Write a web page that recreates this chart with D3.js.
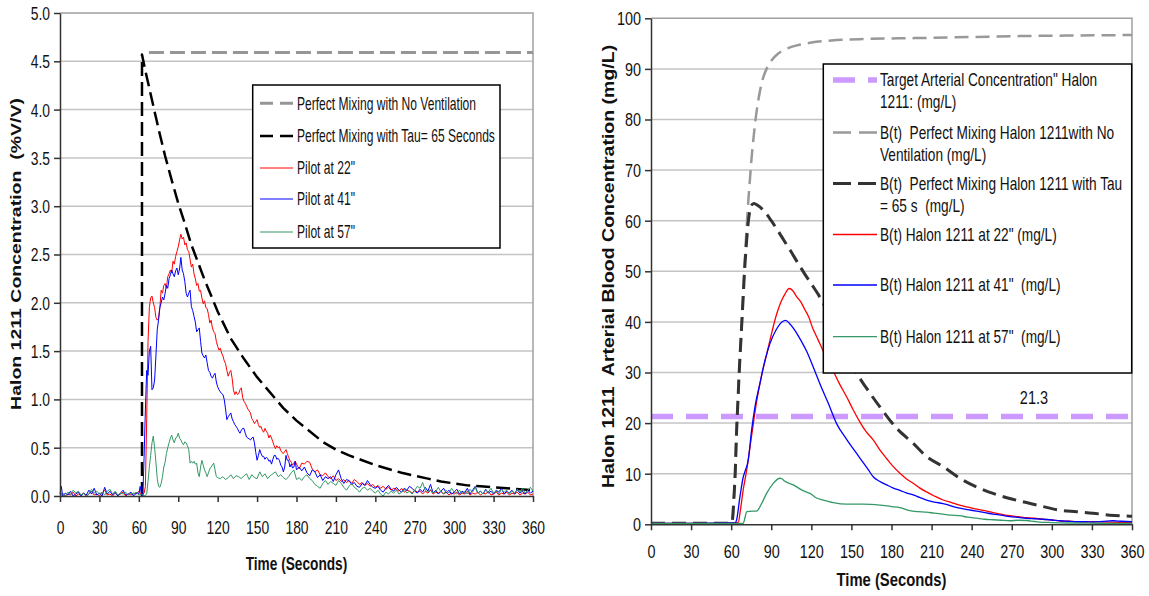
<!DOCTYPE html>
<html>
<head>
<meta charset="utf-8">
<script src="https://cdn.jsdelivr.net/npm/d3@7"></script>
<style>
  body { margin: 0; background: #fff; }
  svg { display: block; font-family: "Liberation Sans", Arial, sans-serif; }
</style>
</head>
<body>
<svg id="chart" width="1149" height="596"></svg>
<script>
// Tick labels shared by the two panels
var timeTicks = [0, 30, 60, 90, 120, 150, 180, 210, 240, 270, 300, 330, 360];
var leftTicks = [0, 0.5, 1, 1.5, 2, 2.5, 3, 3.5, 4, 4.5, 5];
var rightTicks = [0, 10, 20, 30, 40, 50, 60, 70, 80, 90, 100];

// Left panel, room concentration (%V/V) as [seconds, value]
var noVentL = [[67.7, 4.59], [360, 4.59]];
var tauL = [[62.4, 0], [62.4, 4.57], [65, 4.40], [70, 4.10], [75, 3.80], [80, 3.52], [85, 3.27], [90, 3.03],
  [95, 2.82], [100, 2.60], [105, 2.42], [110, 2.24], [120, 1.91], [130, 1.63], [140, 1.42], [150, 1.23],
  [160, 1.07], [170, 0.91], [180, 0.78], [190, 0.67], [200, 0.56], [210, 0.48], [220, 0.42], [230, 0.37],
  [240, 0.32], [250, 0.28], [260, 0.24], [270, 0.21], [280, 0.18], [290, 0.15], [300, 0.13], [310, 0.11],
  [320, 0.10], [330, 0.09], [340, 0.08], [350, 0.07], [360, 0.06]];
var pilot22 = [[0, 0.01], [2, 0.03], [4, 0.0], [6, 0.02], [8, 0.01], [10, 0.04], [12, 0.0], [14, 0.02], [16, 0.01],
  [18, 0.03], [20, 0.0], [22, 0.02], [24, 0.05], [26, 0.01], [28, 0.02], [30, 0.0], [32, 0.03], [34, 0.06],
  [36, 0.01], [38, 0.02], [40, 0.0], [42, 0.03], [44, 0.01], [46, 0.02], [48, 0.04], [50, 0.0], [52, 0.02],
  [54, 0.01], [56, 0.03], [58, 0.02], [60, 0.05], [62, 0.01], [64, 0.03], [65, 0.1], [66, 0.8], [67, 1.6],
  [68, 1.95], [69, 2.05], [70, 2.07], [71, 2.0], [72, 1.95], [73, 1.85], [74, 1.82], [75, 1.84], [76, 1.95],
  [77, 2.13], [78, 2.1], [79, 2.18], [80, 2.2], [81, 2.15], [82, 2.27], [83, 2.3], [84, 2.34], [85, 2.31],
  [86, 2.43], [87, 2.4], [88, 2.48], [89, 2.53], [90, 2.58], [91, 2.65], [92, 2.71], [93, 2.66], [94, 2.68],
  [95, 2.6], [96, 2.62], [97, 2.55], [98, 2.53], [99, 2.45], [100, 2.37], [101, 2.4], [102, 2.3], [103, 2.25],
  [104, 2.18], [105, 2.2], [106, 2.12], [107, 2.13], [108, 2.05], [109, 1.99], [110, 2.02], [111, 1.95],
  [112, 1.94], [113, 1.88], [114, 1.79], [115, 1.82], [116, 1.74], [117, 1.7], [118, 1.68], [119, 1.6],
  [120, 1.55], [121, 1.51], [122, 1.53], [123, 1.48], [124, 1.45], [125, 1.4], [126, 1.37], [127, 1.3],
  [128, 1.24], [129, 1.28], [130, 1.3], [131, 1.22], [132, 1.1], [133, 1.05], [134, 1.08], [135, 1.05],
  [136, 1.06], [137, 1.1], [138, 1.12], [139, 1.02], [140, 0.98], [141, 0.96], [142, 0.93], [143, 0.9],
  [144, 0.88], [145, 0.86], [146, 0.8], [147, 0.78], [148, 0.75], [149, 0.77], [150, 0.79], [151, 0.74],
  [152, 0.71], [153, 0.72], [154, 0.68], [155, 0.66], [156, 0.7], [157, 0.67], [158, 0.65], [159, 0.6],
  [160, 0.63], [161, 0.6], [162, 0.56], [163, 0.52], [164, 0.49], [165, 0.52], [166, 0.5], [167, 0.51],
  [168, 0.47], [169, 0.45], [170, 0.44], [171, 0.46], [172, 0.48], [173, 0.44], [174, 0.4], [175, 0.37],
  [176, 0.35], [177, 0.32], [178, 0.34], [179, 0.36], [180, 0.33], [182, 0.28], [184, 0.34], [186, 0.33],
  [188, 0.36], [190, 0.35], [192, 0.28], [194, 0.25], [196, 0.27], [198, 0.22], [200, 0.21], [202, 0.24],
  [204, 0.2], [206, 0.18], [208, 0.21], [210, 0.16], [212, 0.18], [214, 0.15], [216, 0.17], [218, 0.14],
  [220, 0.16], [222, 0.13], [224, 0.17], [226, 0.15], [228, 0.12], [230, 0.14], [232, 0.11], [234, 0.13],
  [236, 0.1], [238, 0.12], [240, 0.09], [242, 0.11], [244, 0.08], [246, 0.1], [248, 0.07], [250, 0.09],
  [252, 0.06], [254, 0.08], [256, 0.07], [258, 0.05], [260, 0.08], [262, 0.04], [264, 0.06], [266, 0.05],
  [268, 0.03], [270, 0.06], [272, 0.04], [274, 0.05], [276, 0.02], [278, 0.05], [280, 0.03], [282, 0.06],
  [284, 0.02], [286, 0.04], [288, 0.03], [290, 0.05], [292, 0.02], [294, 0.04], [296, 0.01], [298, 0.03],
  [300, 0.02], [302, 0.04], [304, 0.01], [306, 0.03], [308, 0.02], [310, 0.05], [312, 0.01], [314, 0.03],
  [316, 0.02], [318, 0.04], [320, 0.01], [322, 0.03], [324, 0.02], [326, 0.05], [328, 0.01], [330, 0.02],
  [332, 0.04], [334, 0.01], [336, 0.03], [338, 0.02], [340, 0.04], [342, 0.01], [344, 0.03], [346, 0.02],
  [348, 0.04], [350, 0.01], [352, 0.03], [354, 0.02], [356, 0.04], [358, 0.01], [360, 0.02]];
var pilot41 = [[0, 0.02], [1, 0.1], [2, 0.0], [4, 0.03], [6, 0.01], [8, 0.05], [10, 0.0], [12, 0.02], [14, 0.04],
  [16, 0.0], [18, 0.03], [20, 0.01], [22, 0.06], [24, 0.02], [26, 0.08], [28, 0.01], [30, 0.03], [32, 0.0],
  [34, 0.09], [36, 0.02], [38, 0.05], [40, 0.01], [42, 0.04], [44, 0.0], [46, 0.03], [48, 0.06], [50, 0.01],
  [52, 0.02], [54, 0.04], [56, 0.0], [58, 0.03], [60, 0.02], [61, 0.1], [62, 0.03], [63, 0.0], [64, 0.4],
  [65, 0.9], [66, 1.3], [67, 1.25], [68, 1.5], [69, 1.55], [70, 1.1], [71, 1.12], [72, 1.2], [73, 1.45],
  [74, 1.72], [75, 1.82], [76, 1.95], [77, 2.0], [78, 2.06], [79, 2.03], [80, 2.1], [81, 2.18], [82, 2.15],
  [83, 2.25], [84, 2.29], [85, 2.34], [86, 2.3], [87, 2.27], [88, 2.33], [89, 2.36], [90, 2.29], [91, 2.35],
  [92, 2.47], [93, 2.34], [94, 2.3], [95, 2.22], [96, 2.1], [97, 2.06], [98, 2.1], [99, 2.13], [100, 1.96],
  [101, 1.92], [102, 1.86], [103, 1.8], [104, 1.7], [105, 1.72], [106, 1.74], [107, 1.6], [108, 1.48],
  [109, 1.45], [110, 1.43], [111, 1.46], [112, 1.38], [113, 1.3], [114, 1.28], [115, 1.24], [116, 1.22],
  [117, 1.25], [118, 1.27], [119, 1.18], [120, 1.13], [121, 1.1], [122, 1.08], [123, 1.06], [124, 1.05],
  [125, 1.0], [126, 0.9], [127, 0.79], [128, 0.82], [129, 0.84], [130, 0.86], [131, 0.8], [132, 0.77],
  [133, 0.74], [134, 0.72], [135, 0.7], [136, 0.67], [137, 0.65], [138, 0.68], [139, 0.7], [140, 0.7],
  [141, 0.65], [142, 0.61], [143, 0.6], [144, 0.59], [145, 0.58], [146, 0.6], [147, 0.61], [148, 0.55],
  [149, 0.45], [150, 0.37], [151, 0.42], [152, 0.48], [153, 0.44], [154, 0.41], [155, 0.41], [156, 0.38],
  [157, 0.4], [158, 0.39], [159, 0.36], [160, 0.37], [161, 0.33], [162, 0.38], [163, 0.42], [164, 0.42],
  [165, 0.38], [166, 0.39], [167, 0.37], [168, 0.32], [169, 0.3], [170, 0.25], [171, 0.3], [172, 0.42],
  [173, 0.37], [174, 0.37], [175, 0.3], [176, 0.33], [177, 0.29], [178, 0.3], [179, 0.36], [180, 0.27],
  [182, 0.3], [184, 0.26], [186, 0.3], [188, 0.24], [190, 0.21], [192, 0.27], [194, 0.25], [196, 0.19],
  [198, 0.22], [200, 0.16], [202, 0.2], [204, 0.18], [206, 0.2], [208, 0.15], [210, 0.22], [212, 0.27],
  [214, 0.18], [216, 0.13], [218, 0.17], [220, 0.16], [222, 0.12], [224, 0.14], [226, 0.1], [228, 0.09],
  [230, 0.13], [232, 0.11], [234, 0.16], [236, 0.12], [238, 0.09], [240, 0.08], [242, 0.1], [244, 0.06],
  [246, 0.04], [248, 0.08], [250, 0.11], [252, 0.07], [254, 0.05], [256, 0.09], [258, 0.06], [260, 0.04],
  [262, 0.08], [264, 0.06], [266, 0.1], [268, 0.08], [270, 0.05], [272, 0.03], [274, 0.07], [276, 0.04],
  [278, 0.09], [280, 0.05], [282, 0.12], [284, 0.03], [286, 0.06], [288, 0.02], [290, 0.05], [292, 0.08],
  [294, 0.03], [296, 0.06], [298, 0.02], [300, 0.04], [302, 0.07], [304, 0.02], [306, 0.05], [308, 0.03],
  [310, 0.08], [312, 0.02], [314, 0.06], [316, 0.1], [318, 0.03], [320, 0.05], [322, 0.02], [324, 0.07],
  [326, 0.03], [328, 0.05], [330, 0.02], [332, 0.06], [334, 0.04], [336, 0.08], [338, 0.02], [340, 0.05],
  [342, 0.03], [344, 0.06], [346, 0.02], [348, 0.07], [350, 0.03], [352, 0.05], [354, 0.02], [356, 0.06],
  [358, 0.03], [360, 0.05]];
var pilot57 = [[0, 0.0], [2, 0.02], [4, 0.0], [6, 0.04], [8, 0.02], [10, 0.06], [12, 0.03], [14, 0.05], [16, 0.01],
  [18, 0.03], [20, 0.0], [22, 0.02], [24, 0.07], [26, 0.03], [28, 0.05], [30, 0.02], [32, 0.04], [34, 0.01],
  [36, 0.05], [38, 0.07], [40, 0.02], [42, 0.05], [44, 0.01], [46, 0.03], [48, 0.02], [50, 0.04], [52, 0.01],
  [54, 0.03], [56, 0.02], [58, 0.04], [60, 0.01], [62, 0.02], [64, 0.0], [66, 0.02], [67, 0.15], [68, 0.3],
  [69, 0.42], [70, 0.55], [71, 0.62], [72, 0.5], [73, 0.35], [74, 0.18], [75, 0.1], [76, 0.09], [77, 0.13],
  [78, 0.2], [79, 0.3], [80, 0.35], [81, 0.44], [82, 0.5], [83, 0.55], [84, 0.6], [85, 0.63], [86, 0.58],
  [87, 0.55], [88, 0.6], [89, 0.61], [90, 0.65], [91, 0.6], [92, 0.58], [93, 0.55], [94, 0.53], [95, 0.56],
  [96, 0.55], [97, 0.52], [98, 0.48], [99, 0.34], [100, 0.36], [101, 0.34], [102, 0.36], [103, 0.33],
  [104, 0.34], [105, 0.24], [106, 0.2], [107, 0.3], [108, 0.37], [109, 0.32], [110, 0.27], [111, 0.24],
  [112, 0.2], [113, 0.24], [114, 0.28], [115, 0.3], [116, 0.32], [117, 0.34], [118, 0.27], [119, 0.2],
  [120, 0.19], [122, 0.18], [124, 0.2], [126, 0.17], [128, 0.19], [130, 0.22], [132, 0.18], [134, 0.21],
  [136, 0.2], [138, 0.18], [140, 0.21], [142, 0.23], [144, 0.17], [146, 0.22], [148, 0.19], [150, 0.18],
  [152, 0.25], [154, 0.2], [156, 0.23], [158, 0.18], [160, 0.21], [162, 0.23], [164, 0.25], [166, 0.2],
  [168, 0.22], [170, 0.19], [172, 0.17], [174, 0.2], [176, 0.24], [178, 0.27], [180, 0.17], [182, 0.19],
  [184, 0.16], [186, 0.2], [188, 0.22], [190, 0.18], [192, 0.16], [194, 0.12], [196, 0.1], [198, 0.08],
  [200, 0.13], [202, 0.16], [204, 0.12], [206, 0.15], [208, 0.13], [210, 0.11], [212, 0.16], [214, 0.13],
  [216, 0.09], [218, 0.06], [220, 0.1], [222, 0.13], [224, 0.09], [226, 0.07], [228, 0.04], [230, 0.08],
  [232, 0.09], [234, 0.06], [236, 0.08], [238, 0.05], [240, 0.03], [242, 0.06], [244, 0.02], [246, 0.0],
  [248, 0.04], [250, 0.02], [252, 0.05], [254, 0.03], [256, 0.06], [258, 0.02], [260, 0.04], [262, 0.07],
  [264, 0.03], [266, 0.05], [268, 0.02], [270, 0.06], [272, 0.1], [274, 0.08], [276, 0.14], [278, 0.06],
  [280, 0.04], [282, 0.07], [284, 0.03], [286, 0.05], [288, 0.09], [290, 0.04], [292, 0.02], [294, 0.06],
  [296, 0.03], [298, 0.08], [300, 0.04], [302, 0.02], [304, 0.06], [306, 0.03], [308, 0.05], [310, 0.02],
  [312, 0.07], [314, 0.04], [316, 0.09], [318, 0.03], [320, 0.05], [322, 0.02], [324, 0.06], [326, 0.04],
  [328, 0.08], [330, 0.03], [332, 0.05], [334, 0.02], [336, 0.07], [338, 0.04], [340, 0.06], [342, 0.02],
  [344, 0.05], [346, 0.03], [348, 0.07], [350, 0.04], [352, 0.08], [354, 0.03], [356, 0.06], [358, 0.09],
  [360, 0.05]];

// Right panel, arterial blood concentration (mg/L) as [seconds, value]
var target = [[0, 21.3], [360, 21.3]];
var noVentR = [[0, 0.2], [60, 0.2], [61, 1], [62, 5], [63, 10], [64, 18], [65, 24], [66, 30], [67, 35],
  [68, 40], [69, 45.5], [70, 51], [71, 56], [72, 60.5], [73, 64.5], [74, 68], [75, 71.5], [76, 74.5],
  [77, 77], [78, 79.5], [79, 81.5], [80, 83.3], [82, 86.2], [84, 88.3], [87, 90.3], [90, 91.6], [95, 93],
  [100, 93.8], [110, 94.7], [120, 95.2], [135, 95.6], [160, 95.9], [200, 96.1], [240, 96.3], [280, 96.5],
  [320, 96.6], [360, 96.7]];
var tauR = [[0, 0.2], [60, 0.2], [61, 1], [62, 5], [63, 10], [64, 18], [65, 24], [66, 30], [67, 35], [68, 40],
  [69, 45], [70, 50], [71, 54], [72, 57.5], [73, 60.2], [74, 62], [75, 63], [77, 63.4], [80, 63],
  [85, 61.8], [90, 60], [95, 58], [100, 55.9], [105, 53.8], [110, 51.6], [115, 49.5], [120, 47.5],
  [125, 45.5], [130, 43.2], [135, 40.4], [140, 37.4], [145, 34.6], [150, 31.9], [155, 29.4],
  [161.3, 26.9], [171.3, 23.2], [183.8, 19.0], [196.2, 16.0], [206.2, 13.4], [218.6, 11.4], [231.1, 9.1],
  [243.6, 7.4], [256, 6.1], [268.5, 5.1], [281, 4.3], [293.4, 3.5], [305.9, 2.8], [318.4, 2.5], [330.8, 2.2],
  [343.3, 1.8], [360, 1.6]];
var blood22 = [[0, 0.2], [30, 0.2], [60, 0.3], [65.3, 0.4], [67, 3], [69, 6.8], [71.6, 10.7], [74.1, 15.3],
  [76.6, 19.9], [79, 24.2], [82.8, 29.5], [86.5, 33.5], [90.3, 37.8], [94, 41.5], [97, 43.8], [100, 45.4],
  [103.5, 46.6], [106, 46.2], [109, 45], [112, 44], [115, 42.5], [118, 41], [121, 38.8], [125, 36.5],
  [130, 33.6], [136.4, 30.3], [141, 27.8], [146.4, 25.2], [151, 22.8], [156.4, 20.2], [161, 18.3],
  [166.3, 16.7], [171, 14.8], [176.3, 13.0], [181, 11.5], [186.3, 10.1], [191, 9.0], [196.2, 8.1],
  [201, 7.2], [206.2, 6.4], [212, 5.6], [218.6, 4.8], [225, 4.3], [231, 3.8], [237, 3.4], [243.6, 3.0],
  [250, 2.7], [256, 2.3], [262, 2.0], [268.5, 1.7], [275, 1.5], [281, 1.3], [287, 1.2], [293, 1.0],
  [300, 0.85], [306, 0.7], [313, 0.6], [320, 0.5], [330, 0.5], [340, 0.45], [350, 0.4], [360, 0.4]];
var blood41 = [[0, 0.2], [30, 0.2], [60, 0.3], [63, 0.3], [64, 0.8], [66.6, 5.5], [69.1, 9.4], [70.3, 10.4],
  [72.8, 12.7], [75.3, 18.6], [77.8, 23.2], [81.5, 27.8], [85.3, 32.4], [89, 35.7], [94, 38.6], [98, 40],
  [100.8, 40.3], [104, 39.6], [109, 37.8], [112.5, 36.2], [116.5, 34.2], [121.4, 31.1], [126.4, 27.8],
  [132.7, 23.9], [138.9, 19.9], [146.4, 16.8], [153.9, 14.0], [158, 12.5], [162.6, 10.8], [166.3, 9.4],
  [171, 8.5], [176.3, 7.8], [181, 7.2], [186.3, 6.7], [191, 6.2], [196.2, 5.8], [201, 5.3], [206.2, 4.8],
  [212, 4.4], [218.6, 4.1], [225, 3.6], [231, 3.2], [237, 2.9], [243.6, 2.6], [250, 2.3], [256, 2.0],
  [262, 1.8], [268.5, 1.5], [275, 1.35], [281, 1.2], [287, 1.1], [293, 1.0], [300, 0.85], [306, 0.7],
  [312, 0.6], [318, 0.5], [325, 0.5], [331, 0.45], [338, 0.55], [346, 0.7], [352, 0.6], [360, 0.5]];
var blood57 = [[0, 0.2], [30, 0.2], [60, 0.2], [69, 0.2], [70.5, 1.5], [71.6, 2.5], [76, 2.6], [79, 2.6],
  [82.8, 4.1], [86.5, 6.1], [91.5, 8.1], [96.5, 9.1], [98, 9.0], [100.2, 8.5], [106.5, 7.8], [112.7, 6.8],
  [116, 6.4], [119, 6.1], [123.9, 5.2], [128.9, 4.8], [136.4, 4.3], [146.4, 4.0], [158.9, 4.0], [171.3, 3.8],
  [180, 3.5], [186.3, 3.3], [193.7, 2.7], [200, 2.5], [206, 2.4], [212, 2.2], [218.6, 2.0], [225, 1.8],
  [231, 1.7], [237, 1.4], [243.6, 1.2], [250, 1.0], [256, 0.9], [262, 0.8], [268.5, 0.7], [275, 0.8],
  [281, 0.75], [287, 0.55], [293, 0.4], [300, 0.35], [306, 0.3], [320, 0.25], [340, 0.2], [360, 0.2]];

// Legend labels (multi-line entries are split into rows)
var leftNames = [["Perfect Mixing with No Ventilation"], ["Perfect Mixing with Tau= 65 Seconds"],
  ["Pilot at 22\""], ["Pilot at 41\""], ["Pilot at 57\""]];
var rightNames = [["Target Arterial Concentration\" Halon", "1211: (mg/L)"],
  ["B(t)  Perfect Mixing Halon 1211with No", "Ventilation (mg/L)"],
  ["B(t)  Perfect Mixing Halon 1211 with Tau", "= 65 s  (mg/L)"],
  ["B(t) Halon 1211 at 22\" (mg/L)"], ["B(t) Halon 1211 at 41\"  (mg/L)"], ["B(t) Halon 1211 at 57\"  (mg/L)"]];

var svg = d3.select("#chart");

// The source chart was stretched vertically, so text is drawn tall and then squeezed sideways
function label(g, x, y, str, size, kx, opt) {
  opt = opt || {};
  return g.append("text")
    .attr("transform", "translate(" + x + "," + y + ") scale(" + kx + ",1)" + (opt.rotate ? " rotate(-90)" : ""))
    .attr("font-size", size)
    .attr("font-weight", opt.bold ? "bold" : null)
    .attr("text-anchor", opt.anchor || "start")
    .attr("fill", "#111")
    .style("white-space", "pre")
    .text(str);
}

function drawPanel(p) {
  var g = svg.append("g");
  var x = d3.scaleLinear().domain([0, 360]).range([p.left, p.right]);
  var y = d3.scaleLinear().domain([0, p.yMax]).range([p.bottom, p.top]);

  // Gridlines and the grey frame on top / right
  g.append("g").selectAll("line")
    .data(p.yTicks.slice(1, -1))
    .enter().append("line")
    .attr("x1", x(0)).attr("x2", x(360))
    .attr("y1", function(d) { return y(d); })
    .attr("y2", function(d) { return y(d); })
    .attr("stroke", "#c4c4c4")
    .attr("stroke-width", 1.5);
  g.append("path")
    .attr("d", "M" + x(0) + "," + y(p.yMax) + "H" + x(360) + "V" + y(0))
    .attr("fill", "none")
    .attr("stroke", "#a0a0a0")
    .attr("stroke-width", 1.5);

  // Series
  var line = d3.line()
    .x(function(d) { return x(d[0]); })
    .y(function(d) { return y(d[1]); });
  p.series.forEach(function(s) {
    g.append("path")
      .datum(s.data)
      .attr("d", line.curve(s.smooth ? d3.curveMonotoneX : d3.curveLinear))
      .attr("fill", "none")
      .attr("stroke", s.color)
      .attr("stroke-width", s.width)
      .attr("stroke-dasharray", s.dash || null)
      .attr("stroke-linejoin", "round");
  });

  // Y axis
  var ya = g.append("g")
    .attr("transform", "translate(" + x(0) + ",0)")
    .call(d3.axisLeft(y).tickValues(p.yTicks).tickFormat(p.fmt).tickSize(6).tickSizeOuter(0))
    .attr("font-size", null).attr("font-family", null);
  ya.selectAll(".tick text")
    .attr("x", null).attr("dy", "0.36em")
    .attr("transform", "translate(-10,0) scale(" + p.tickK + ",1)")
    .attr("font-size", 18).attr("fill", "#111");

  // X axis
  var xa = g.append("g")
    .attr("transform", "translate(0," + y(0) + ")")
    .call(d3.axisBottom(x).tickValues(timeTicks).tickSize(6).tickSizeOuter(0))
    .attr("font-size", null).attr("font-family", null);
  xa.selectAll(".tick text")
    .attr("y", p.xLabelY).attr("dy", null)
    .attr("transform", "scale(" + p.tickK + ",1)")
    .attr("font-size", 18).attr("fill", "#111");

  [ya, xa].forEach(function(a) {
    a.selectAll(".domain, .tick line").attr("stroke", "#333").attr("stroke-width", 1.5);
  });

  // Axis titles
  label(g, (p.left + p.right) / 2, p.xTitleY, "Time (Seconds)", 19, p.xTitleK, { bold: true, anchor: "middle" });
  label(g, p.yTitleX, p.yTitleMid, p.yTitle, 19.5, p.yTitleK, { bold: true, anchor: "middle", rotate: true });

  // Extra annotation
  if (p.note) {
    label(g, p.note.x, p.note.y, p.note.text, 17.5, 0.83, { anchor: "middle" });
  }

  // Legend
  var L = p.legend;
  g.append("rect")
    .attr("x", L.box[0]).attr("y", L.box[1])
    .attr("width", L.box[2] - L.box[0]).attr("height", L.box[3] - L.box[1])
    .attr("fill", "#fff").attr("stroke", "#000").attr("stroke-width", 1.5);
  p.series.forEach(function(s, i) {
    var ry = L.rows[i];
    g.append("line")
      .attr("x1", L.sx[0]).attr("x2", L.sx[1])
      .attr("y1", ry).attr("y2", ry)
      .attr("stroke", s.color)
      .attr("stroke-width", s.width)
      .attr("stroke-dasharray", s.keyDash || null);
    p.names[i].forEach(function(str, j) {
      label(g, L.tx, ry + j * 22 + 6.3, str, 17.5, L.k);
    });
  });
}

drawPanel({
  left: 60, right: 533, top: 13, bottom: 496,
  yMax: 5, yTicks: leftTicks, fmt: d3.format(".1f"),
  tickK: 0.77, xLabelY: 38, xTitleY: 569.5, xTitleK: 0.72,
  yTitle: "Halon 1211 Concentration  (%V/V)", yTitleX: 20.5, yTitleMid: 254, yTitleK: 0.74,
  series: [
    { data: noVentL, color: "#969696", width: 3, dash: "15,6", keyDash: "13,7" },
    { data: tauL, color: "#000", width: 2.5, dash: "14,6", keyDash: "13,7" },
    { data: pilot22, color: "#ff0000", width: 1 },
    { data: pilot41, color: "#0000ff", width: 1 },
    { data: pilot57, color: "#339966", width: 1 }
  ],
  names: leftNames,
  legend: { box: [252.7, 85, 500, 248], rows: [103.3, 136, 168, 199, 232], sx: [260, 293], tx: 297, k: 0.69 }
});

drawPanel({
  left: 651, right: 1132, top: 18.3, bottom: 524.3,
  yMax: 100, yTicks: rightTicks, fmt: d3.format("d"),
  tickK: 0.8, xLabelY: 34, xTitleY: 586, xTitleK: 0.78,
  yTitle: "Halon 1211  Arterial Blood Concentration (mg/L)", yTitleX: 614, yTitleMid: 266.5, yTitleK: 0.81,
  series: [
    { data: target, color: "#cc99ff", width: 5.5, dash: "22,13", keyDash: "22,13" },
    { data: noVentR, color: "#999999", width: 2.5, dash: "14,7", keyDash: "18,8", smooth: true },
    { data: tauR, color: "#333333", width: 3, dash: "14,7", keyDash: "18,7", smooth: true },
    { data: blood22, color: "#ff0000", width: 1.3, smooth: true },
    { data: blood41, color: "#0000ff", width: 1.3, smooth: true },
    { data: blood57, color: "#339966", width: 1.3, smooth: true }
  ],
  names: rightNames,
  note: { x: 1034, y: 404, text: "21.3" },
  legend: { box: [823.3, 64, 1131.7, 373], rows: [80, 132.5, 183.5, 234.5, 285, 336.7], sx: [833, 877], tx: 880, k: 0.78 }
});
</script>
</body>
</html>
